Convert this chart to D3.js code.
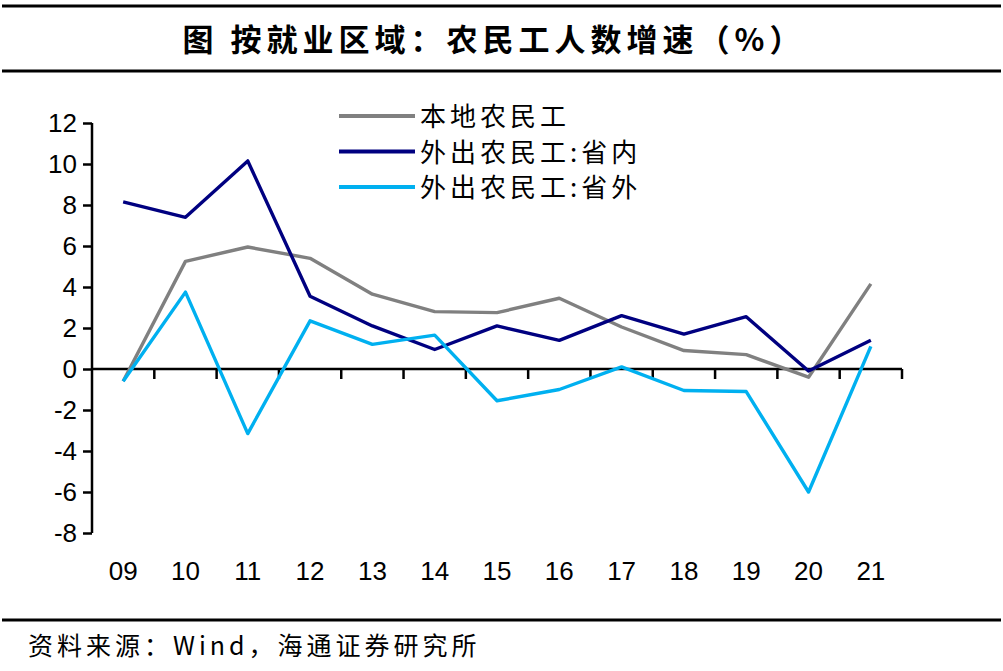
<!DOCTYPE html>
<html>
<head>
<meta charset="utf-8">
<script src="https://cdn.jsdelivr.net/npm/d3@7"></script>
<style>
  body { margin: 0; background: #fff; }
  svg { display: block; }
</style>
</head>
<body>
<svg id="chart" width="1003" height="671"></svg>
<script>
// data
var years = ["09", "10", "11", "12", "13", "14", "15", "16", "17", "18", "19", "20", "21"];
var local = [-0.6, 5.25, 5.95, 5.4, 3.65, 2.8, 2.75, 3.45, 2.05, 0.9, 0.7, -0.4, 4.15];
var outInProv = [8.15, 7.4, 10.15, 3.55, 2.1, 0.95, 2.1, 1.4, 2.6, 1.7, 2.55, -0.1, 1.4];
var outOutProv = [-0.6, 3.75, -3.15, 2.35, 1.2, 1.65, -1.55, -1.0, 0.1, -1.05, -1.1, -6.0, 1.1];
var yTicks = [-8, -6, -4, -2, 0, 2, 4, 6, 8, 10, 12];

var series = [
  { name: "本地农民工", values: local, color: "#808080" },
  { name: "外出农民工:省内", values: outInProv, color: "#000080" },
  { name: "外出农民工:省外", values: outOutProv, color: "#00B0F0" }
];

var svg = d3.select("#chart");
var cjk = "'Noto Sans CJK SC', sans-serif";
var latin = "Arial, 'Liberation Sans', sans-serif";

// header / footer rules
svg.append("line").attr("x1", 2).attr("x2", 1001).attr("y1", 6).attr("y2", 6)
  .attr("stroke", "#000").attr("stroke-width", 3);
svg.append("line").attr("x1", 2).attr("x2", 1001).attr("y1", 71).attr("y2", 71)
  .attr("stroke", "#000").attr("stroke-width", 3);
svg.append("line").attr("x1", 2).attr("x2", 1001).attr("y1", 620).attr("y2", 620)
  .attr("stroke", "#000").attr("stroke-width", 3);

svg.append("text")
  .attr("x", 494).attr("y", 51)
  .attr("text-anchor", "middle")
  .style("font-family", cjk).style("font-weight", 700)
  .style("font-size", "31px").style("letter-spacing", "5px")
  .text("图  按就业区域：农民工人数增速（%）");

svg.append("text")
  .attr("x", 28).attr("y", 655)
  .style("font-family", cjk).style("font-size", "25px").style("letter-spacing", "4px")
  .text("资料来源：Wind，海通证券研究所");

// scales
var x = d3.scaleBand().domain(years).range([92, 902]);
var y = d3.scaleLinear().domain([-8, 12]).range([533, 123]);

// y axis
var yAxis = svg.append("g").attr("transform", "translate(92,0)")
  .call(d3.axisLeft(y).tickValues(yTicks).tickSize(9).tickPadding(6).tickFormat(d3.format("d")));
yAxis.select(".domain").attr("stroke", "#000").attr("stroke-width", 2.5).attr("d", "M0,123V533");
yAxis.selectAll(".tick line").attr("stroke", "#000").attr("stroke-width", 2.5);
yAxis.selectAll(".tick text")
  .style("font-family", latin).style("font-size", "26px").attr("fill", "#000")
  .text(function (d) { return d < 0 ? "-" + Math.abs(d) : d; });

// x axis at zero, ticks at band boundaries
var xAxisG = svg.append("g").attr("transform", "translate(0," + y(0) + ")");
xAxisG.append("line").attr("x1", 92).attr("x2", 902).attr("y1", 0).attr("y2", 0)
  .attr("stroke", "#000").attr("stroke-width", 2.5);
var bounds = years.map(function (d) { return x(d); }).concat([x.range()[1]]);
xAxisG.selectAll("line.tk").data(bounds.slice(1)).join("line").attr("class", "tk")
  .attr("x1", function (d) { return d; }).attr("x2", function (d) { return d; })
  .attr("y1", 0).attr("y2", 10)
  .attr("stroke", "#000").attr("stroke-width", 2.5);

svg.selectAll("text.xl").data(years).join("text").attr("class", "xl")
  .attr("x", function (d) { return x(d) + x.bandwidth() / 2; })
  .attr("y", 580)
  .attr("text-anchor", "middle")
  .style("font-family", latin).style("font-size", "26px")
  .text(function (d) { return d; });

// lines
var line = d3.line()
  .x(function (d, i) { return x(years[i]) + x.bandwidth() / 2; })
  .y(function (d) { return y(d); });

svg.selectAll("path.series").data(series).join("path").attr("class", "series")
  .attr("d", function (s) { return line(s.values); })
  .attr("fill", "none")
  .attr("stroke", function (s) { return s.color; })
  .attr("stroke-width", 3.4)
  .attr("stroke-linejoin", "round");

// legend
var lg = svg.selectAll("g.lg").data(series).join("g").attr("class", "lg")
  .attr("transform", function (s, i) { return "translate(339," + (116 + i * 35.5) + ")"; });
lg.append("line").attr("x1", 0).attr("x2", 76).attr("y1", 0).attr("y2", 0)
  .attr("stroke", function (s) { return s.color; }).attr("stroke-width", 4);
lg.append("text").attr("x", 81).attr("y", 10)
  .style("font-family", cjk).style("font-size", "26px").style("letter-spacing", "4px")
  .text(function (s) { return s.name; });
</script>
</body>
</html>
